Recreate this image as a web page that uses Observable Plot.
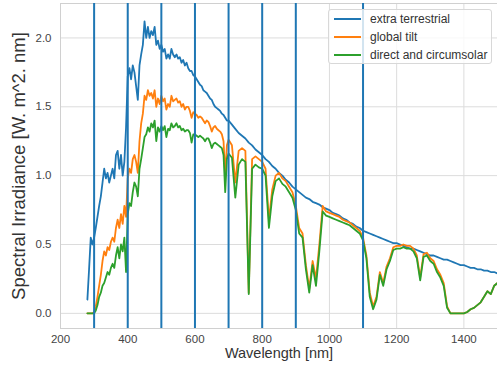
<!DOCTYPE html>
<html><head><meta charset="utf-8">
<script src="https://cdn.jsdelivr.net/npm/d3@7"></script>
<script src="https://cdn.jsdelivr.net/npm/@observablehq/plot@0.6"></script>
<style>
body{margin:0;background:#fff;font-family:"Liberation Sans",Arial,sans-serif}
#wrap{position:relative;width:497px;height:373px;overflow:hidden}
.legend{position:absolute;left:328px;top:9px;width:164px;height:55px;background:rgba(255,255,255,0.8);border:1px solid #d8d8d8;border-radius:3px;box-sizing:border-box}
.row{position:absolute;left:5px;height:18px;display:flex;align-items:center;font-size:12px;color:#333;white-space:nowrap}
.sw{width:27px;height:2px;margin-right:9px}
</style></head>
<body><div id="wrap"></div>
<script>
const wavelengths = [
280,285,290,295,300,305,310,315,320,325,
330,335,340,345,350,355,360,365,370,375,
380,385,390,395,400,405,410,415,420,425,
430,435,440,445,450,455,460,465,470,475,
480,485,490,495,500,505,510,515,520,525,
530,535,540,545,550,555,560,565,570,575,
580,585,590,595,600,605,610,615,620,625,
630,635,640,645,650,655,660,665,670,675,
680,685,690,695,700,
710,720,730,740,750,760,770,780,790,800,
810,820,830,840,850,860,870,880,890,900,
910,920,930,940,950,960,970,980,990,1000,
1010,1020,1030,1040,1050,1060,1070,1080,1090,1100,
1110,1120,1130,1140,1150,1160,1170,1180,1190,1200,
1210,1220,1230,1240,1250,1260,1270,1280,1290,1300,
1310,1320,1330,1340,1350,1360,1370,1380,1390,1400,
1410,1420,1430,1440,1450,1460,1470,1480,1490,1500];

const extraTerrestrial = [
0.10,0.32,0.55,0.50,0.55,0.62,0.70,0.78,0.85,0.95,
1.05,0.98,1.02,0.95,1.00,1.05,0.98,1.15,1.18,1.05,
1.15,1.00,1.10,1.35,1.72,1.78,1.70,1.80,1.75,1.65,
1.55,1.80,1.88,1.95,2.12,2.00,2.08,2.00,2.05,2.02,
2.08,1.95,1.98,1.92,1.95,1.90,1.92,1.85,1.88,1.85,
1.92,1.88,1.86,1.88,1.85,1.86,1.82,1.84,1.80,1.82,
1.78,1.76,1.76,1.73,1.72,1.70,1.68,1.66,1.65,1.62,
1.61,1.60,1.58,1.56,1.55,1.52,1.50,1.49,1.48,1.47,
1.45,1.44,1.42,1.40,1.40,
1.37,1.34,1.31,1.29,1.27,1.24,1.22,1.19,1.17,1.15,
1.12,1.10,1.07,1.05,1.02,1.00,0.97,0.95,0.92,0.90,
0.88,0.86,0.84,0.83,0.81,0.80,0.79,0.77,0.76,0.75,
0.73,0.72,0.71,0.69,0.68,0.66,0.65,0.63,0.62,0.60,
0.59,0.58,0.57,0.56,0.55,0.54,0.53,0.52,0.51,0.51,
0.50,0.49,0.48,0.47,0.47,0.46,0.45,0.44,0.43,0.42,
0.42,0.41,0.40,0.39,0.39,0.38,0.37,0.36,0.35,0.35,
0.34,0.33,0.33,0.32,0.32,0.31,0.31,0.30,0.30,0.29];

const globalTilt = [
0,0,0,0,0.01,0.05,0.12,0.20,0.28,0.38,
0.45,0.42,0.48,0.46,0.52,0.55,0.52,0.62,0.68,0.62,
0.72,0.65,0.78,0.70,0.98,1.05,1.02,1.12,1.15,1.10,
1.02,1.25,1.38,1.45,1.58,1.55,1.62,1.58,1.60,1.56,
1.62,1.50,1.56,1.52,1.58,1.54,1.56,1.48,1.52,1.50,
1.58,1.54,1.55,1.56,1.53,1.54,1.50,1.52,1.48,1.50,
1.50,1.47,1.42,1.46,1.45,1.44,1.42,1.43,1.42,1.40,
1.38,1.40,1.39,1.36,1.32,1.35,1.36,1.34,1.33,1.32,
1.30,1.25,1.00,1.22,1.26,
1.22,0.95,1.18,1.20,1.18,0.15,1.12,1.14,1.12,1.10,
1.05,0.68,0.90,1.00,1.02,0.98,0.96,0.92,0.88,0.78,
0.62,0.58,0.35,0.18,0.38,0.25,0.50,0.78,0.74,0.73,
0.72,0.71,0.70,0.68,0.67,0.66,0.64,0.62,0.60,0.55,
0.42,0.15,0.05,0.12,0.30,0.22,0.34,0.40,0.48,0.49,
0.49,0.50,0.49,0.49,0.47,0.42,0.26,0.43,0.44,0.40,
0.38,0.32,0.28,0.22,0.05,0,0,0,0,0,
0.01,0.03,0.04,0.06,0.08,0.12,0.16,0.14,0.20,0.22];

const directCircumsolar = [
0,0,0,0,0,0.02,0.06,0.12,0.15,0.20,
0.22,0.26,0.30,0.28,0.33,0.36,0.33,0.42,0.48,0.40,
0.50,0.45,0.55,0.30,0.72,0.80,0.78,0.88,0.95,0.92,
0.85,1.05,1.12,1.20,1.28,1.30,1.35,1.32,1.38,1.35,
1.40,1.25,1.35,1.32,1.36,1.33,1.36,1.28,1.34,1.33,
1.38,1.35,1.36,1.38,1.35,1.36,1.33,1.34,1.32,1.33,
1.33,1.31,1.24,1.30,1.30,1.29,1.28,1.29,1.28,1.27,
1.25,1.27,1.27,1.24,1.20,1.23,1.24,1.23,1.22,1.21,
1.20,1.15,0.88,1.12,1.16,
1.13,0.84,1.08,1.12,1.10,0.14,1.05,1.08,1.06,1.05,
1.00,0.62,0.85,0.96,0.98,0.94,0.92,0.88,0.84,0.75,
0.58,0.55,0.32,0.15,0.35,0.20,0.45,0.74,0.71,0.70,
0.69,0.68,0.67,0.66,0.65,0.64,0.62,0.60,0.58,0.53,
0.40,0.12,0.03,0.10,0.28,0.20,0.32,0.38,0.46,0.47,
0.47,0.48,0.47,0.47,0.45,0.40,0.24,0.41,0.42,0.38,
0.36,0.30,0.26,0.20,0.04,0,0,0,0,0,
0.01,0.03,0.04,0.06,0.08,0.12,0.16,0.14,0.20,0.22];

const markerWavelengths = [300,400,500,600,700,800,900,1100];
const xTicks = [200,400,600,800,1000,1200,1400];
const yTicks = [0,0.5,1,1.5,2];
const seriesNames = ["extra terrestrial","global tilt","direct and circumsolar"];
const seriesColors = ["#1f77b4","#ff7f0e","#2ca02c"];
const seriesValues = [extraTerrestrial, globalTilt, directCircumsolar];

const tables = seriesValues.map(vals => wavelengths.map((w,i) => ({w, v: vals[i]})));

const chart = Plot.plot({
  width: 497, height: 373,
  marginLeft: 60, marginRight: 0, marginTop: 3, marginBottom: 45,
  style: {fontFamily: '"Liberation Sans", Arial, sans-serif', background: "#fff"},
  x: {domain: [200,1500]},
  y: {domain: [-0.11,2.25]},
  marks: [
    Plot.gridX(xTicks, {stroke: "#dcdcdc", strokeOpacity: 1, strokeWidth: 1}),
    Plot.gridY(yTicks, {stroke: "#dcdcdc", strokeOpacity: 1, strokeWidth: 1}),
    Plot.frame({stroke: "#d0d0d0"}),
    ...tables.map((t,k) => Plot.line(t, {x: "w", y: "v", stroke: seriesColors[k], strokeWidth: 1.8})),
    Plot.ruleX(markerWavelengths, {stroke: "#1f77b4", strokeWidth: 2}),
    Plot.axisX(xTicks, {tickSize: 0, tickPadding: 6, fontSize: 11.5, fill: "#444", label: null, tickFormat: d3.format("d")}),
    Plot.axisY(yTicks, {tickSize: 0, tickPadding: 9, fontSize: 11.5, fill: "#444", label: null, tickFormat: d3.format(".1f")}),
    Plot.text(["Wavelength [nm]"], {frameAnchor: "bottom", dy: 29, fontSize: 14.5, fill: "#333"}),
    Plot.text(["Spectral Irradiance [W. m^2. nm]"], {frameAnchor: "left", textAnchor: "middle", dx: -41, rotate: -90, fontSize: 18.5, fill: "#333"})
  ]
});
const wrap = document.getElementById("wrap");
wrap.appendChild(chart);
const leg = document.createElement("div");
leg.className = "legend";
seriesNames.forEach((n,k) => {
  const r = document.createElement("div");
  r.className = "row";
  r.style.top = (0 + k*18) + "px";
  const s = document.createElement("span"); s.className = "sw"; s.style.background = seriesColors[k];
  const t = document.createElement("span"); t.textContent = n;
  r.appendChild(s); r.appendChild(t);
  leg.appendChild(r);
});
wrap.appendChild(leg);
</script></body></html>
